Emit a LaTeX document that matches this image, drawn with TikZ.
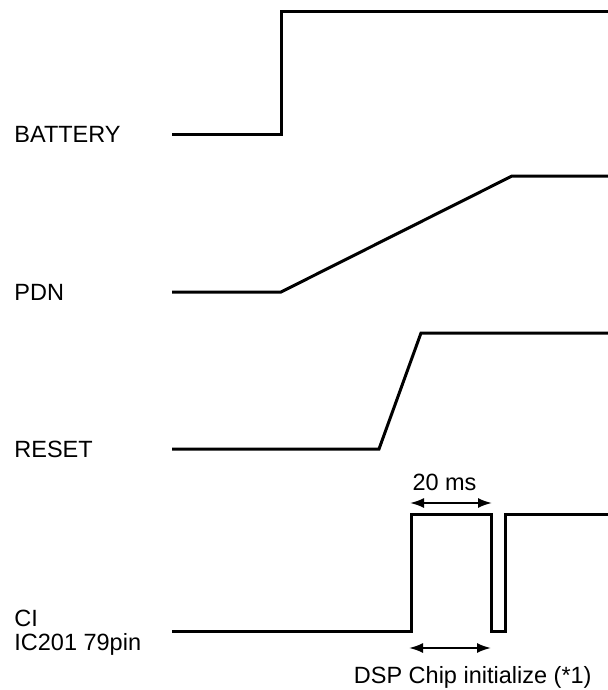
\documentclass[tikz,border=0pt]{standalone}
\usepackage{fontspec}
\setmainfont{Liberation Sans}
\usetikzlibrary{arrows.meta}

\begin{document}
\begin{tikzpicture}[x=0.5pt,y=-0.5pt,
    sig/.style={line width=1.5pt,line join=miter},
    lbl/.style={anchor=base west,inner sep=0pt,font=\fontsize{11.75}{12}\selectfont},
    txt/.style={inner sep=0pt,font=\fontsize{11.75}{12}\selectfont},
    dim/.style={{Latex[length=7pt,width=5pt]}-{Latex[length=7pt,width=5pt]},line width=1pt}
  ]
    \useasboundingbox (0,0) rectangle (608,690);
    % signal names
    \node[lbl] (bat) at (14,142.5) {BATTERY};
    \node[lbl] (pdn) at (14,300.5) {PDN};
    \node[lbl] (rst) at (14,457.5) {RESET};
    \node[lbl] (ci) at (14,626) {CI};
    \node[lbl] (ic) at (14,650) {IC201 79pin};
    % waveforms
    \draw[sig] (172,134) -- (281,134) -- (281,12) -- (608,12);
    \draw[sig] (172,292) -- (281,292) -- (512,176) -- (608,176);
    \draw[sig] (172,449) -- (379,449) -- (421,333) -- (608,333);
    \draw[sig] (172,631) -- (411,631) -- (411,514) -- (491,514) -- (491,631)
        -- (505,631) -- (505,514) -- (608,514);
    % timing marks
    \coordinate (t1a) at (410,503);
    \coordinate (t1b) at (492,503);
    \coordinate (t2a) at (409,648);
    \coordinate (t2b) at (491,648);
    \draw[dim] (t1a) -- (t1b);
    \draw[dim] (t2a) -- (t2b);
    \node[txt,anchor=base] (ms) at (444.5,490) {20 ms};
    \node[txt,anchor=base east] (dsp) at (592,683) {DSP Chip initialize (*1)};
\end{tikzpicture}
\end{document}
